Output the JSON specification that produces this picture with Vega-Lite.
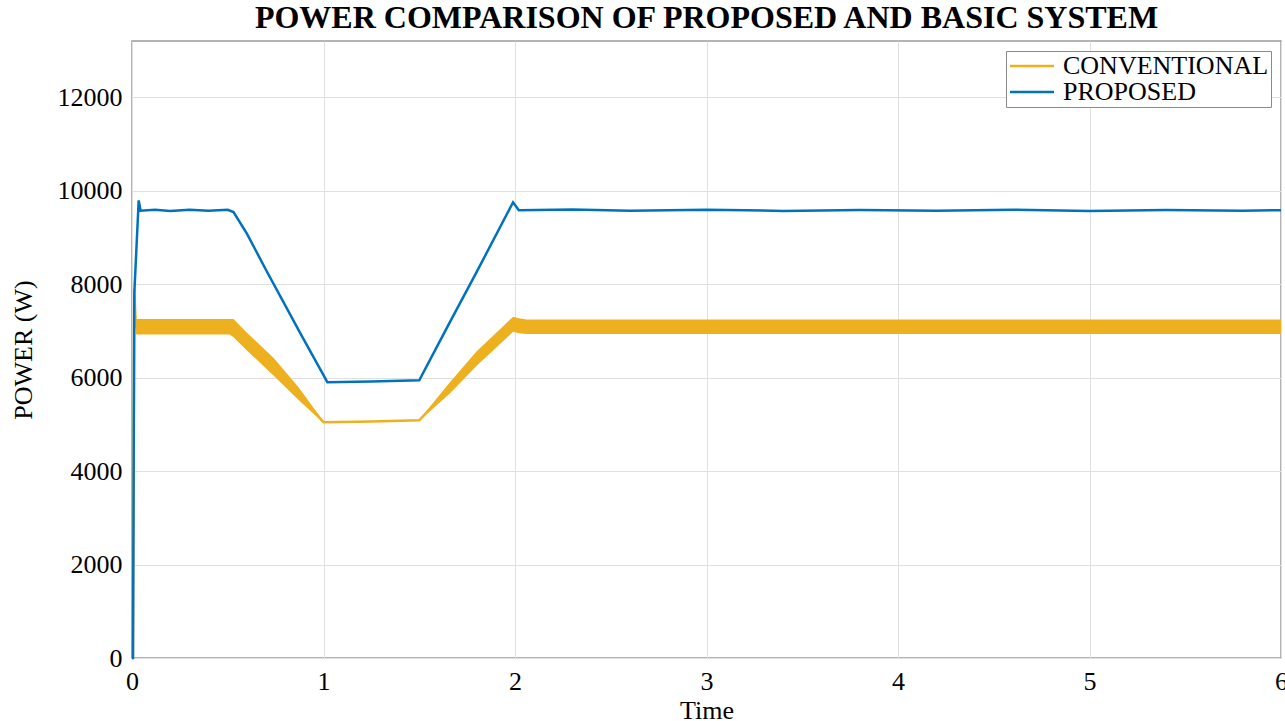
{
  "$schema": "https://vega.github.io/schema/vega-lite/v6.json",
  "width": 1149,
  "height": 617,
  "autosize": {"type": "none"},
  "padding": {"left": 132, "top": 41, "right": 4, "bottom": 63},
  "background": "white",
  "title": {
    "text": "POWER COMPARISON OF PROPOSED AND BASIC SYSTEM",
    "font": "Liberation Serif",
    "fontSize": 32,
    "fontWeight": "bold",
    "color": "black",
    "anchor": "middle",
    "baseline": "alphabetic",
    "offset": 9,
    "dy": 28
  },
  "config": {
    "view": {"stroke": "#9a9a9a", "strokeWidth": 1.5},
    "axis": {
      "labelFont": "Liberation Serif",
      "labelFontSize": 26,
      "labelColor": "black",
      "titleFont": "Liberation Serif",
      "titleFontSize": 26,
      "titleFontWeight": "normal",
      "titleColor": "black",
      "grid": true,
      "gridColor": "#e0e0e0",
      "gridWidth": 1,
      "domain": false,
      "ticks": false
    },
    "legend": {
      "orient": "top-right",
      "offset": 10,
      "strokeColor": "#8a8a8a",
      "fillColor": "white",
      "padding": 2,
      "cornerRadius": 0,
      "labelFont": "Liberation Serif",
      "labelFontSize": 26,
      "labelColor": "black",
      "labelOffset": 29,
      "labelLimit": 400,
      "symbolType": "M-1,0H3",
      "symbolStrokeWidth": 2.5,
      "symbolSize": 484,
      "rowPadding": 0
    }
  },
  "data": {
    "values": [
      {"series": "CONVENTIONAL", "t": 0, "p": 0, "lo": 0, "hi": 0},
      {"series": "CONVENTIONAL", "t": 0.005, "p": 0, "lo": 0, "hi": 0},
      {"series": "CONVENTIONAL", "t": 0.012, "p": 7900, "lo": 7900, "hi": 7900},
      {"series": "CONVENTIONAL", "t": 0.02, "p": 7080, "lo": 6920, "hi": 7250},
      {"series": "CONVENTIONAL", "t": 0.25, "p": 7080, "lo": 6920, "hi": 7250},
      {"series": "CONVENTIONAL", "t": 0.51, "p": 7080, "lo": 6920, "hi": 7250},
      {"series": "CONVENTIONAL", "t": 0.53, "p": 7060, "lo": 6860, "hi": 7250},
      {"series": "CONVENTIONAL", "t": 0.6, "p": 6780, "lo": 6580, "hi": 6960},
      {"series": "CONVENTIONAL", "t": 0.74, "p": 6230, "lo": 6040, "hi": 6420},
      {"series": "CONVENTIONAL", "t": 0.87, "p": 5650, "lo": 5520, "hi": 5790},
      {"series": "CONVENTIONAL", "t": 1.0, "p": 5045, "lo": 5030, "hi": 5060},
      {"series": "CONVENTIONAL", "t": 1.25, "p": 5060, "lo": 5050, "hi": 5070},
      {"series": "CONVENTIONAL", "t": 1.5, "p": 5085, "lo": 5075, "hi": 5095},
      {"series": "CONVENTIONAL", "t": 1.66, "p": 5780, "lo": 5660, "hi": 5900},
      {"series": "CONVENTIONAL", "t": 1.8, "p": 6400, "lo": 6250, "hi": 6560},
      {"series": "CONVENTIONAL", "t": 1.99, "p": 7130, "lo": 6980, "hi": 7300},
      {"series": "CONVENTIONAL", "t": 2.02, "p": 7100, "lo": 6950, "hi": 7270},
      {"series": "CONVENTIONAL", "t": 2.06, "p": 7080, "lo": 6930, "hi": 7240},
      {"series": "CONVENTIONAL", "t": 3.0, "p": 7080, "lo": 6930, "hi": 7240},
      {"series": "CONVENTIONAL", "t": 4.5, "p": 7080, "lo": 6930, "hi": 7240},
      {"series": "CONVENTIONAL", "t": 6.0, "p": 7080, "lo": 6930, "hi": 7240},
      {"series": "PROPOSED", "t": 0, "p": 0},
      {"series": "PROPOSED", "t": 0.005, "p": 0},
      {"series": "PROPOSED", "t": 0.012, "p": 7800},
      {"series": "PROPOSED", "t": 0.035, "p": 9790},
      {"series": "PROPOSED", "t": 0.045, "p": 9570},
      {"series": "PROPOSED", "t": 0.12, "p": 9590},
      {"series": "PROPOSED", "t": 0.2, "p": 9565},
      {"series": "PROPOSED", "t": 0.3, "p": 9590},
      {"series": "PROPOSED", "t": 0.4, "p": 9570},
      {"series": "PROPOSED", "t": 0.5, "p": 9590},
      {"series": "PROPOSED", "t": 0.53, "p": 9540},
      {"series": "PROPOSED", "t": 0.6, "p": 9080},
      {"series": "PROPOSED", "t": 0.7, "p": 8300},
      {"series": "PROPOSED", "t": 0.88, "p": 6940},
      {"series": "PROPOSED", "t": 1.0, "p": 6050},
      {"series": "PROPOSED", "t": 1.02, "p": 5900},
      {"series": "PROPOSED", "t": 1.25, "p": 5915},
      {"series": "PROPOSED", "t": 1.5, "p": 5940},
      {"series": "PROPOSED", "t": 1.66, "p": 7185},
      {"series": "PROPOSED", "t": 1.8, "p": 8260},
      {"series": "PROPOSED", "t": 1.99, "p": 9750},
      {"series": "PROPOSED", "t": 2.02, "p": 9580},
      {"series": "PROPOSED", "t": 2.3, "p": 9595},
      {"series": "PROPOSED", "t": 2.6, "p": 9570},
      {"series": "PROPOSED", "t": 3.0, "p": 9590},
      {"series": "PROPOSED", "t": 3.4, "p": 9565},
      {"series": "PROPOSED", "t": 3.8, "p": 9585},
      {"series": "PROPOSED", "t": 4.2, "p": 9570},
      {"series": "PROPOSED", "t": 4.6, "p": 9590},
      {"series": "PROPOSED", "t": 5.0, "p": 9565},
      {"series": "PROPOSED", "t": 5.4, "p": 9585},
      {"series": "PROPOSED", "t": 5.8, "p": 9570},
      {"series": "PROPOSED", "t": 6.0, "p": 9580}
    ]
  },
  "layer": [
    {
      "transform": [{"filter": "datum.series === 'CONVENTIONAL'"}],
      "mark": {"type": "area", "color": "#EDB120", "opacity": 1},
      "encoding": {
        "x": {"field": "t", "type": "quantitative"},
        "y": {"field": "lo", "type": "quantitative"},
        "y2": {"field": "hi"}
      }
    },
    {
      "mark": {"type": "line", "strokeWidth": 2.5},
      "encoding": {
        "x": {
          "field": "t",
          "type": "quantitative",
          "title": "Time",
          "scale": {"domain": [0, 6], "nice": false, "zero": false},
          "axis": {"values": [0, 1, 2, 3, 4, 5, 6], "format": "d", "labelPadding": 10, "titlePadding": 3, "labelFlush": false}
        },
        "y": {
          "field": "p",
          "type": "quantitative",
          "title": "POWER  (W)",
          "scale": {"domain": [0, 13200], "nice": false},
          "axis": {"values": [0, 2000, 4000, 6000, 8000, 10000, 12000], "format": "d", "labelPadding": 10, "titlePadding": 21, "labelFlush": false}
        },
        "color": {
          "field": "series",
          "type": "nominal",
          "scale": {"domain": ["CONVENTIONAL", "PROPOSED"], "range": ["#EDB120", "#0072BD"]},
          "legend": {"title": null}
        },
        "order": {"field": "t", "type": "quantitative"}
      }
    }
  ]
}
